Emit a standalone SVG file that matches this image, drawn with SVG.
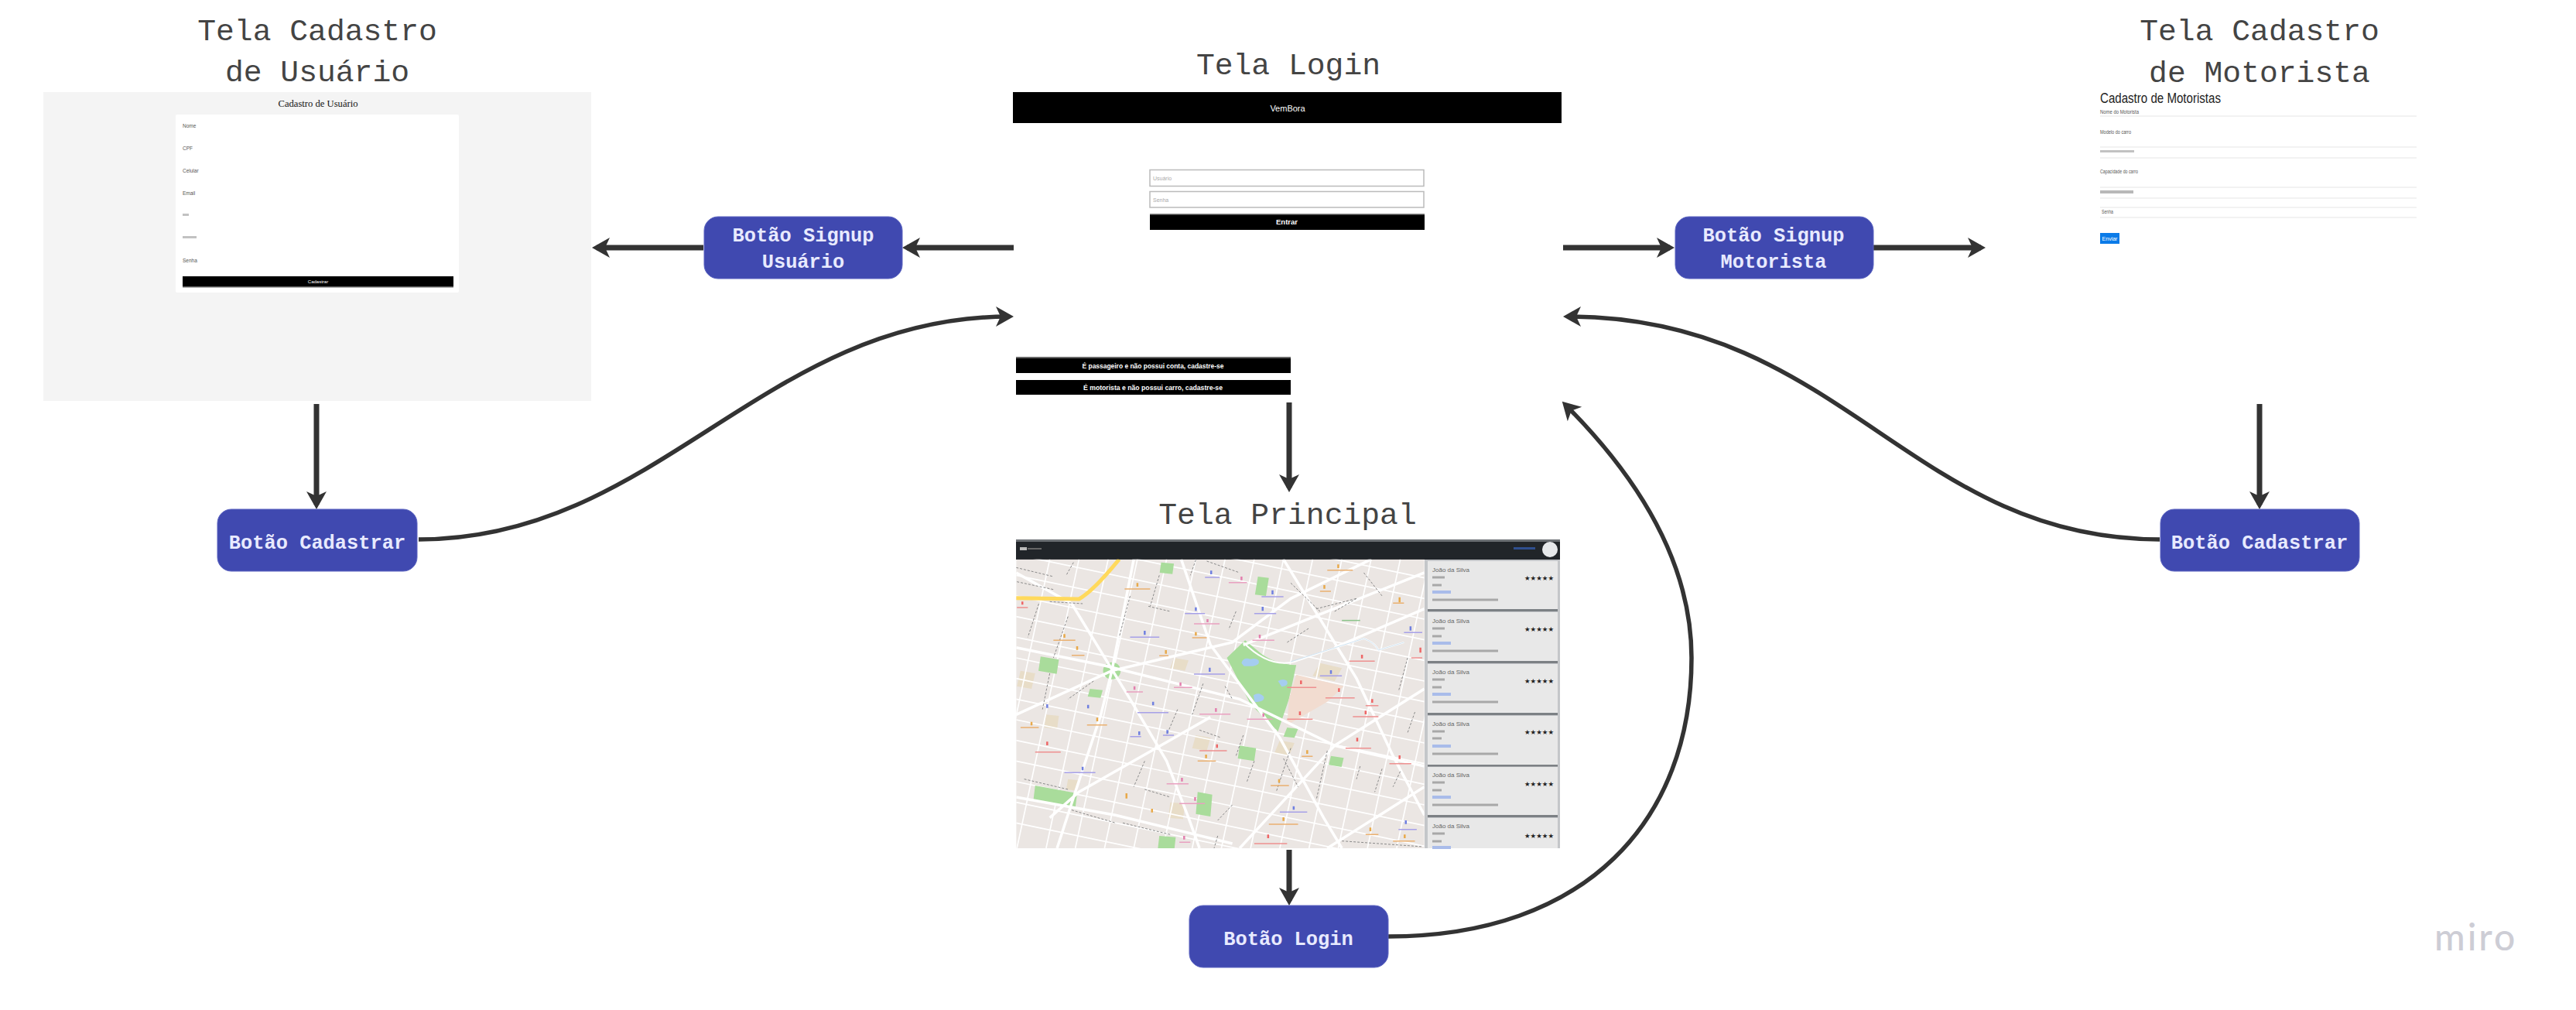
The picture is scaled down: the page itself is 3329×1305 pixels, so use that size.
<svg xmlns="http://www.w3.org/2000/svg" width="3329" height="1305" viewBox="0 0 3329 1305">
<style>
text{font-family:"Liberation Sans",Arial,sans-serif}
.title{font-family:"Liberation Mono","DejaVu Sans Mono",monospace;font-size:39.7px;fill:#444;text-anchor:middle}
.btn{fill:#4049b0;stroke:#5a63c0;stroke-width:1}
.btnt{font-family:"Liberation Mono","DejaVu Sans Mono",monospace;font-weight:700;font-size:25.4px;fill:#e8eaff;text-anchor:middle}
.conn{fill:none;stroke:#333;stroke-width:7;marker-end:url(#arrow)}
.curve{stroke-width:5.5}
.lbl{font-size:6.5px;fill:#555}
.wt{fill:#fff;text-anchor:middle}
.inp{fill:#fff;stroke:#bbb;stroke-width:1.5}
.fl{stroke:#eee;stroke-width:1.5}
.bar{fill:#9a9a9a}
.mp{vector-effect:non-scaling-stroke;fill:none}
.card{fill:#e8e8e8}
.band{fill:#7c8084}
.name{font-size:8px;fill:#666}
.star{font-family:"DejaVu Sans",sans-serif;font-size:8.5px;fill:#222}
</style>
<defs>
<marker id="arrow" markerUnits="userSpaceOnUse" markerWidth="30" markerHeight="30" refX="17" refY="15" orient="auto"><path d="M0 2L23 15L0 28L6 15Z" fill="#333"/></marker>
<clipPath id="mapclip"><rect x="28" y="98" width="1118" height="1120"/></clipPath>
</defs>
<rect width="3329" height="1305" fill="#fff"/>

<g id="tela-cadastro-usuario">
<text class="title" x="410" y="52">Tela Cadastro</text>
<text class="title" x="410" y="105">de Usuário</text>
<rect x="56" y="119" width="708" height="399" fill="#f4f4f4"/>
<text x="411" y="138" text-anchor="middle" style="font-family:'Liberation Serif',serif;font-size:12px;fill:#111" textLength="103" lengthAdjust="spacingAndGlyphs">Cadastro de Usuário</text>
<rect x="227" y="148" width="366" height="230" rx="2" fill="#fff"/>
<text class="lbl" x="236" y="165">Nome</text>
<text class="lbl" x="236" y="194">CPF</text>
<text class="lbl" x="236" y="223">Celular</text>
<text class="lbl" x="236" y="252">Email</text>
<rect class="bar" x="236" y="276" width="8" height="3" opacity=".6"/>
<rect class="bar" x="236" y="305" width="18" height="3" opacity=".6"/>
<text class="lbl" x="236" y="339">Senha</text>
<rect x="236" y="357" width="350" height="14" fill="#000"/>
<rect x="236" y="370" width="350" height="1.5" fill="#666"/>
<text class="wt" x="411" y="366" style="font-size:6px">Cadastrar</text>
</g>

<g id="tela-login">
<text class="title" x="1665" y="96">Tela Login</text>
<rect x="1309" y="119" width="709" height="40" fill="#000"/>
<text class="wt" x="1664" y="144" style="font-size:11px">VemBora</text>
<rect class="inp" x="1486" y="219.500" width="354" height="21"/>
<text x="1490" y="233" style="font-size:7px;fill:#aaa">Usuário</text>
<rect class="inp" x="1486" y="247.500" width="354" height="20.500"/>
<text x="1490" y="261" style="font-size:7px;fill:#aaa">Senha</text>
<rect x="1486" y="277" width="355" height="20" fill="#000"/>
<rect x="1486" y="276" width="355" height="1.500" fill="#888"/>
<text class="wt" x="1663" y="290" style="font-size:9.5px;font-weight:700">Entrar</text>
<rect x="1313" y="461" width="355" height="21" fill="#000"/>
<rect x="1313" y="461" width="355" height="2" fill="#666"/>
<text class="wt" x="1490" y="476" style="font-size:9.5px;font-weight:700" textLength="183" lengthAdjust="spacingAndGlyphs">É passageiro e não possui conta, cadastre-se</text>
<rect x="1313" y="491" width="355" height="19" fill="#000"/>
<text class="wt" x="1490" y="504" style="font-size:9.5px;font-weight:700" textLength="180" lengthAdjust="spacingAndGlyphs">É motorista e não possui carro, cadastre-se</text>
</g>

<g id="tela-cadastro-motorista">
<text class="title" x="2920" y="52">Tela Cadastro</text>
<text class="title" x="2920" y="106">de Motorista</text>
<text x="2714" y="133" style="font-size:17.5px;fill:#222" textLength="156" lengthAdjust="spacingAndGlyphs">Cadastro de Motoristas</text>
<path class="fl" d="M2714 150H3123M2714 190H3123M2714 204H3123M2714 242H3123M2714 256H3123M2714 268H3123M2714 281H3123"/>
<text class="lbl" x="2714" y="147" textLength="50" lengthAdjust="spacingAndGlyphs">Nome do Motorista</text>
<text class="lbl" x="2714" y="173" textLength="40" lengthAdjust="spacingAndGlyphs">Modelo do carro</text>
<rect class="bar" x="2714" y="194" width="44" height="3" opacity=".6"/>
<text class="lbl" x="2714" y="224" textLength="49" lengthAdjust="spacingAndGlyphs">Capacidade do carro</text>
<rect class="bar" x="2714" y="246" width="43" height="4" opacity=".7"/>
<text class="lbl" x="2716" y="276" textLength="15" lengthAdjust="spacingAndGlyphs">Senha</text>
<rect x="2714" y="301" width="25" height="14" fill="#0b7be8"/>
<text class="wt" x="2726.500" y="311" style="font-size:7px">Enviar</text>
</g>

<g id="tela-principal">
<text class="title" x="1664" y="677">Tela Principal</text>
<rect x="1313" y="697" width="703" height="26" fill="#212529"/>
<rect x="1313" y="697" width="703" height="3" fill="#6c7074"/>
<rect x="1318" y="707" width="9" height="4" fill="#bbb"/><rect x="1328" y="708" width="18" height="2" fill="#666"/>
<rect x="1956" y="707" width="28" height="3" fill="#2f4f8f"/>
<ellipse cx="2003" cy="710" rx="10" ry="10" fill="#e6e8ea"/>
<g transform="translate(1300,690) scale(.4719,.3333)" clip-path="url(#mapclip)">
<rect x="28" y="98" width="1118" height="1120" fill="#ebe6e3"/>
<g fill="#e8dcc4" opacity=".9"><path d="M860 500l60 20-20 50-60-20zM460 480l40 10-10 40-40-10zM750 800l40 10-15 50-40-10zM40 530l40 10-10 60-40-10zM450 1040l40 5-5 60-40-5zM110 700l35 5-5 50-35-5zM520 780l40 10-10 50-40-10zM170 950l30 5-5 40-30-5z"/></g>
<path class="mp" stroke="#fff" stroke-width="1.700" d="M28 -800l1118 330M28 -720l1118 330M28 -640l1118 330M28 -560l1118 330M28 -480l1118 330M28 -400l1118 330M28 -320l1118 330M28 -240l1118 330M28 -160l1118 330M28 -80l1118 330M28 0l1118 330M28 80l1118 330M28 160l1118 330M28 240l1118 330M28 320l1118 330M28 400l1118 330M28 480l1118 330M28 560l1118 330M28 640l1118 330M28 720l1118 330M28 800l1118 330M28 880l1118 330M28 960l1118 330M28 1040l1118 330M28 1120l1118 330"/>
<path class="mp" stroke="#fff" stroke-width="1.700" d="M120 98l-170 1120M200 98l-170 1120M280 98l-170 1120M360 98l-170 1120M440 98l-170 1120M520 98l-170 1120M600 98l-170 1120M680 98l-170 1120M760 98l-170 1120M840 98l-170 1120M920 98l-170 1120M1000 98l-170 1120M1080 98l-170 1120M1160 98l-170 1120M1240 98l-170 1120M1320 98l-170 1120"/>
<path d="M655 412L700 465Q740 505 795 508L775 640L745 765L670 660L605 480Z" fill="#a8dc9a"/>
<path d="M795 545L925 590L880 650L770 740L775 640Z" fill="#f2dcd0"/>
<path d="M95 475l50 12-6 55-50-12zM80 975l115 30-5 58-115-30zM640 820l45 10-5 50-45-10zM690 165l30 5-8 70-30-5zM420 1170l45 5-4 50-45-5zM525 1000l40 10-5 85-40-10zM425 110l35 5-4 40-35-5zM890 860l35 8-6 35-35-8zM230 600l35 5-6 30-35-5zM770 750l30 5-10 35-30-5z" fill="#a9dc9b"/>
<ellipse cx="290" cy="530" rx="24" ry="33" fill="#a8dc9a"/>
<path d="M645 500q5-25 25-15 15-5 22 5 5 18-15 22h-25z M745 570q15-12 25 0 5 20-15 22zM678 625q15-15 28 5 5 20-25 22z" fill="#a5cdf0"/>
<path class="mp" stroke="#fff" stroke-width="3.500" d="M28 440L270 510L640 640L900 820L1146 900M28 700L290 530L620 420L780 250L1000 98M180 270L340 640L440 880L500 1100L530 1218M560 430L750 790L870 1100L920 1218M120 1100L200 1000L560 710M640 1218L900 820L1146 600M760 98L960 560L1060 860L1146 1090M350 98L290 530L260 700L190 1000L140 1218M28 1020L300 1090L620 1200M880 1218L1146 980M900 440L1146 290M480 98L560 430M28 150L180 270M650 430L1146 150"/>
<path class="mp" stroke="#fff" stroke-width="2" d="M650 420Q720 520 790 495Q880 450 980 405Q1010 420 1020 450L1090 420"/>
<path class="mp" stroke="#cfe3f2" stroke-width="1" d="M780 495Q880 450 980 405Q1010 420 1020 450L1090 420"/>
<path class="mp" stroke="#ffd95c" stroke-width="5" d="M28 248L200 252Q240 220 310 98"/>
<path class="mp" stroke="#8a8a8a" stroke-width="1" stroke-dasharray="3 2" d="M28 130L130 165M30 185L130 215M120 262L210 270M390 280L450 300M340 240L310 400M420 160L395 280M185 110L165 160M520 100L505 160M630 300L610 370M550 105L640 150M780 190L860 300M980 150L1030 240M850 290L960 250M770 420L830 365M900 300L960 250M170 320L130 480M120 540L100 680M240 570L170 640M90 270L60 400M600 590L620 640M540 580L510 700M470 680L440 780M530 760L590 790M650 780L630 860M880 840L850 1030M780 830L740 1000M680 880L660 960M1100 480L1075 610M1120 690L1100 770M50 950L170 990M380 990L450 1020M180 1070L300 1120M320 1120L450 1165M620 1050L580 1110M970 900L960 950M1030 910L1010 1000M1080 920L1060 980M380 880L350 980M760 870L800 980M580 1170L570 1218M920 1190L1140 1212"/>
<path class="mp" stroke="#e9a0c0" stroke-width="1.500" d="M610 188h50M515 348h70M460 595h50M330 612h45M530 698h85M660 718h70M440 968h60M475 1045h70M675 412h60M475 1195h30"/>
<path class="mp" stroke="#a6a0e8" stroke-width="1.500" d="M700 243h60M680 308h60M340 400h80M515 543h85M360 692h85M340 785h30M160 925h85M750 1078h75M1090 382h50M860 550h60M1075 1145h50M430 780h30M490 308h55M545 168h40"/>
<path class="mp" stroke="#eab070" stroke-width="1.500" d="M325 213h70M880 140h70M860 222h30M130 412h60M180 470h35M510 402h40M40 750h50M222 740h55M525 880h50M725 975h50M720 1125h80M985 1165h35M1060 1190h60M1060 268h30M810 862h30M420 472h25"/>
<path class="mp" stroke="#ee9090" stroke-width="1.500" d="M80 845h70M770 595h80M875 635h80M985 665h35M950 708h70M770 718h70M930 830h70M1050 890h60M940 493h70M530 840h75M680 1200h90M1110 480h30M30 285h30"/>
<path class="mp" stroke="#8bc48b" stroke-width="1.500" d="M920 335h50"/>
<path class="mp" stroke="#e37fae" stroke-width="2.500" d="M645 165v14M552 330v12M478 575v14M352 590v14M575 675v14M705 695v14M482 945v14M518 1020v14M695 390v14M488 1170v14"/>
<path class="mp" stroke="#6f7fe0" stroke-width="2.500" d="M730 218v16M703 282v16M380 375v16M558 518v16M403 650v14M365 765v14M210 902v14M788 1055v14M1108 358v16M890 528v14M1095 1110v14M442 760v14M520 284v14M562 142v14M225 662v14M113 660v14"/>
<path class="mp" stroke="#e8a94a" stroke-width="2.500" d="M360 190v14M910 118v14M872 198v14M160 388v14M195 435v14M520 380v14M70 728v14M250 712v14M548 855v14M748 950v14M760 1098v14M998 1138v14M1092 1165v14M1078 245v20M825 838v14M438 450v14M330 1005v20M400 1065v14"/>
<path class="mp" stroke="#e66" stroke-width="2.500" d="M113 805v14M808 568v14M912 598v14M1003 640v14M985 685v14M805 688v14M962 790v14M1078 858v14M975 468v14M578 815v14M718 1165v14M1135 440v20M45 262v12"/>
</g>
<rect x="1841" y="723" width="175" height="373" fill="#c4c6c9"/>
<g>
<rect class="card" x="1845" y="725" width="168" height="62"/><rect class="band" x="1845" y="787" width="168" height="3"/>
<rect class="card" x="1845" y="791" width="168" height="63"/><rect class="band" x="1845" y="854" width="168" height="3"/>
<rect class="card" x="1845" y="858" width="168" height="63"/><rect class="band" x="1845" y="921" width="168" height="3"/>
<rect class="card" x="1845" y="925" width="168" height="63"/><rect class="band" x="1845" y="988" width="168" height="2.500"/>
<rect class="card" x="1845" y="991" width="168" height="62"/><rect class="band" x="1845" y="1053" width="168" height="3"/>
<rect class="card" x="1845" y="1057" width="168" height="39"/>
<g id="cards-text">
<text class="name" x="1851" y="739">João da Silva</text>
<text class="name" x="1851" y="805">João da Silva</text>
<text class="name" x="1851" y="871">João da Silva</text>
<text class="name" x="1851" y="938">João da Silva</text>
<text class="name" x="1851" y="1004">João da Silva</text>
<text class="name" x="1851" y="1070">João da Silva</text>
<text class="star" x="1970" y="750">★★★★★</text>
<text class="star" x="1970" y="816">★★★★★</text>
<text class="star" x="1970" y="883">★★★★★</text>
<text class="star" x="1970" y="949">★★★★★</text>
<text class="star" x="1970" y="1016">★★★★★</text>
<text class="star" x="1970" y="1083">★★★★★</text>
<path stroke="#a8a8a8" stroke-width="3" fill="none" d="M1851 746h16M1851 756h12M1851 775h85M1851 812h16M1851 822h12M1851 841h85M1851 878h16M1851 888h12M1851 907h85M1851 945h16M1851 954h12M1851 974h85M1851 1011h16M1851 1021h12M1851 1040h85M1851 1077h16M1851 1087h12"/>
<path stroke="#a9bcea" stroke-width="4" fill="none" d="M1851 765h24M1851 831h24M1851 897h24M1851 964h24M1851 1030h24M1851 1095h24"/>
</g>
</g>
</g>

<g id="connectors">
<path class="conn" d="M1310 320H1172"/>
<path class="conn" d="M909 320H771"/>
<path class="conn" d="M2020 320H2158"/>
<path class="conn" d="M2421 320H2560"/>
<path class="conn" d="M409 522V652"/>
<path class="conn" d="M2920 522V652"/>
<path class="conn" d="M1666 520V630"/>
<path class="conn" d="M1666 1098V1164"/>
<path class="conn curve" d="M541 697C850 697 987 409 1304 409"/>
<path class="conn curve" d="M2791 697C2468 697 2380 409 2026 409"/>
<path class="conn curve" d="M1794 1210C2050 1210 2186 1060 2186 850C2186 720 2110 610 2023 523"/>
</g>

<g id="botao-signup-usuario">
<rect class="btn" x="910" y="280" width="256" height="80" rx="18"/>
<text class="btnt" x="1038" y="312">Botão Signup</text>
<text class="btnt" x="1038" y="346">Usuário</text>
</g>
<g id="botao-signup-motorista">
<rect class="btn" x="2165" y="280" width="256" height="80" rx="18"/>
<text class="btnt" x="2292" y="312">Botão Signup</text>
<text class="btnt" x="2292" y="346">Motorista</text>
</g>
<g id="botao-cadastrar-usuario">
<rect class="btn" x="281" y="658" width="258" height="80" rx="18"/>
<text class="btnt" x="410" y="709">Botão Cadastrar</text>
</g>
<g id="botao-cadastrar-motorista">
<rect class="btn" x="2792" y="658" width="257" height="80" rx="18"/>
<text class="btnt" x="2920" y="709">Botão Cadastrar</text>
</g>
<g id="botao-login">
<rect class="btn" x="1537" y="1170" width="257" height="80" rx="18"/>
<text class="btnt" x="1665" y="1221">Botão Login</text>
</g>
<text x="3146" y="1228" style="font-family:Lato,'Open Sans',sans-serif;font-size:48px;font-weight:500;fill:#cdcdd5;letter-spacing:3px">miro</text>
</svg>
